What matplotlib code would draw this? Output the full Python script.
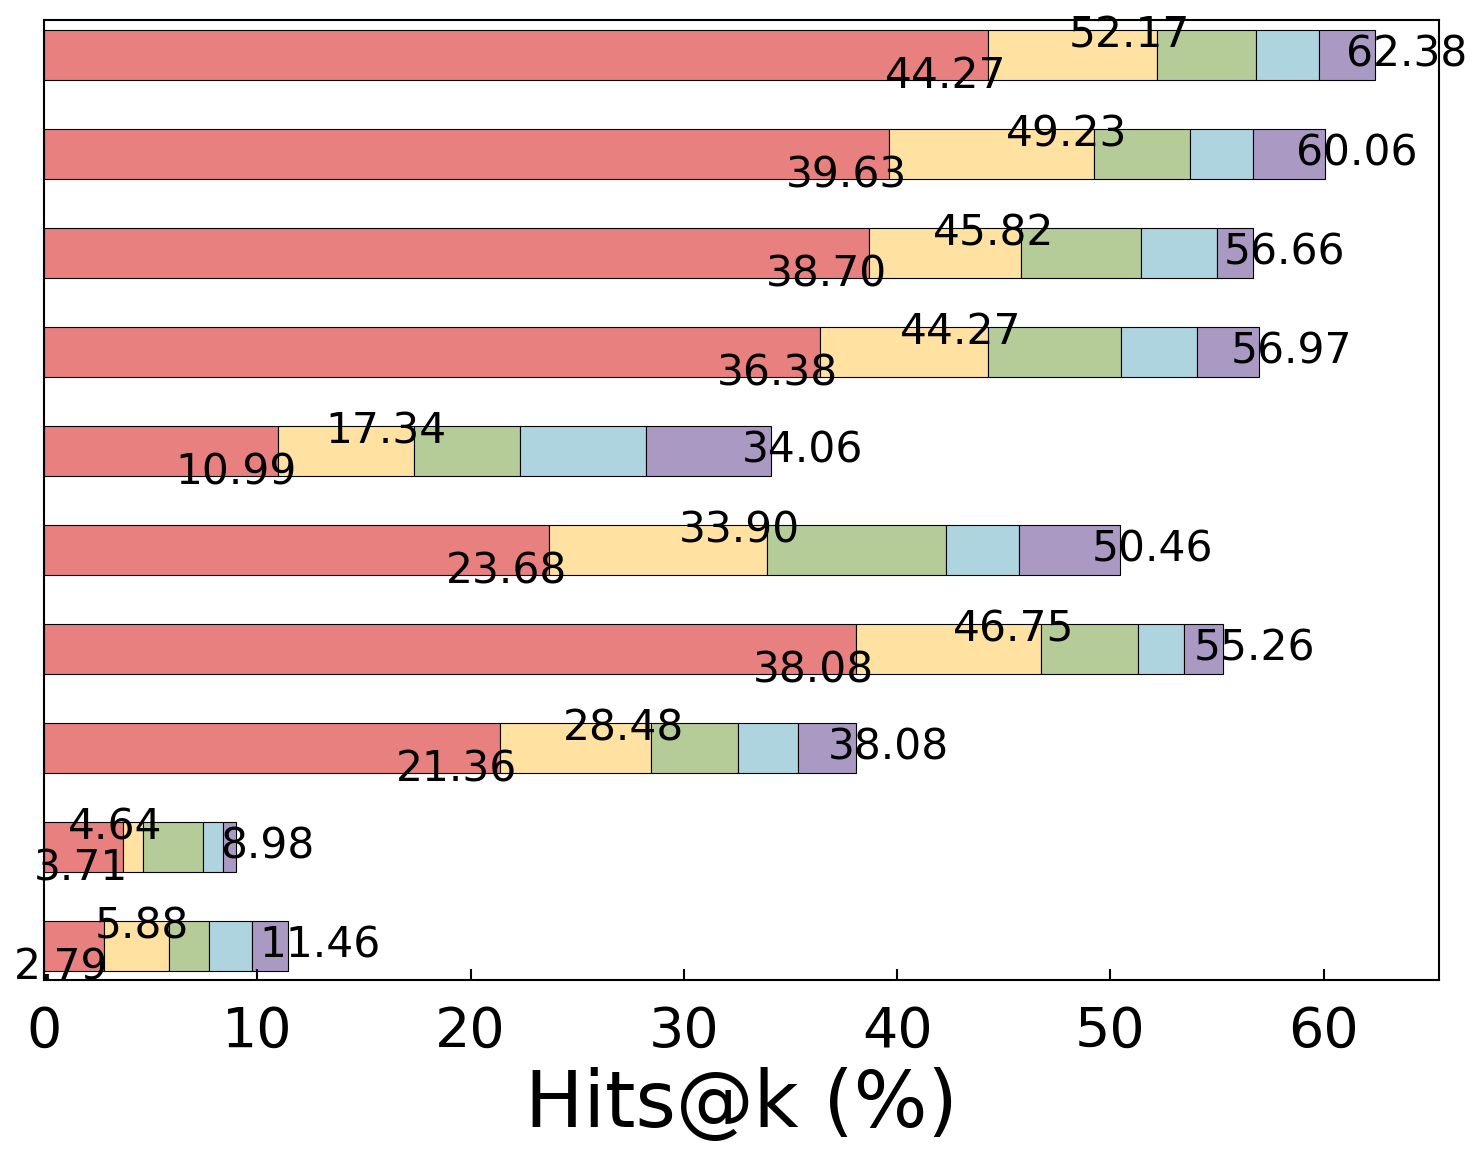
import matplotlib
matplotlib.use("Agg")
import matplotlib.pyplot as plt
import numpy as np

# cumulative boundaries per row (top row first)
red_end    = [44.27, 39.63, 38.70, 36.38, 10.99, 23.68, 38.08, 21.36, 3.71, 2.79]
yellow_end = [52.17, 49.23, 45.82, 44.27, 17.34, 33.90, 46.75, 28.48, 4.64, 5.88]
green_end  = [56.81, 53.72, 51.42, 50.48, 22.31, 42.28, 51.28, 32.53, 7.45, 7.73]
blue_end   = [59.77, 56.67, 54.98, 54.05, 28.22, 45.70, 53.44, 35.34, 8.39, 9.75]
purple_end = [62.38, 60.06, 56.66, 56.97, 34.06, 50.46, 55.26, 38.08, 8.98, 11.46]

colors = ['#E88080', '#FFE1A1', '#B6CC98', '#AED5DF', '#AA9AC3']

fig = plt.figure(figsize=(14.83, 11.59), dpi=100)
ax = fig.add_axes([0.0297, 0.1544, 0.9406, 0.8283])

n = len(red_end)
y = np.arange(n)[::-1]
levels = [red_end, yellow_end, green_end, blue_end, purple_end]
prev = np.zeros(n)
for lv, c in zip(levels, colors):
    lv = np.array(lv)
    ax.barh(y, lv - prev, left=prev, height=0.5, color=c,
            edgecolor='black', linewidth=0.8)
    prev = lv

fs = 30.5
for i in range(n):
    ax.text(red_end[i] - 2.0, y[i] - 0.215, f"{red_end[i]:.2f}", ha='center', va='center', fontsize=fs)
    ax.text(yellow_end[i] - 1.3, y[i] + 0.20, f"{yellow_end[i]:.2f}", ha='center', va='center', fontsize=fs)
    ax.text(purple_end[i] + 1.5, y[i] + 0.01, f"{purple_end[i]:.2f}", ha='center', va='center', fontsize=fs)

ax.set_xlim(0, 65.4)
ax.set_ylim(-0.343, 9.354)
ax.set_yticks([])
ax.set_xticks([0, 10, 20, 30, 40, 50, 60])
ax.tick_params(axis='x', direction='in', length=8, width=1.5, labelsize=40, pad=18)
for s in ax.spines.values():
    s.set_linewidth(1.5)
ax.set_xlabel('Hits@k (%)', fontsize=56, labelpad=6)

fig.savefig('out.png', dpi=100)
